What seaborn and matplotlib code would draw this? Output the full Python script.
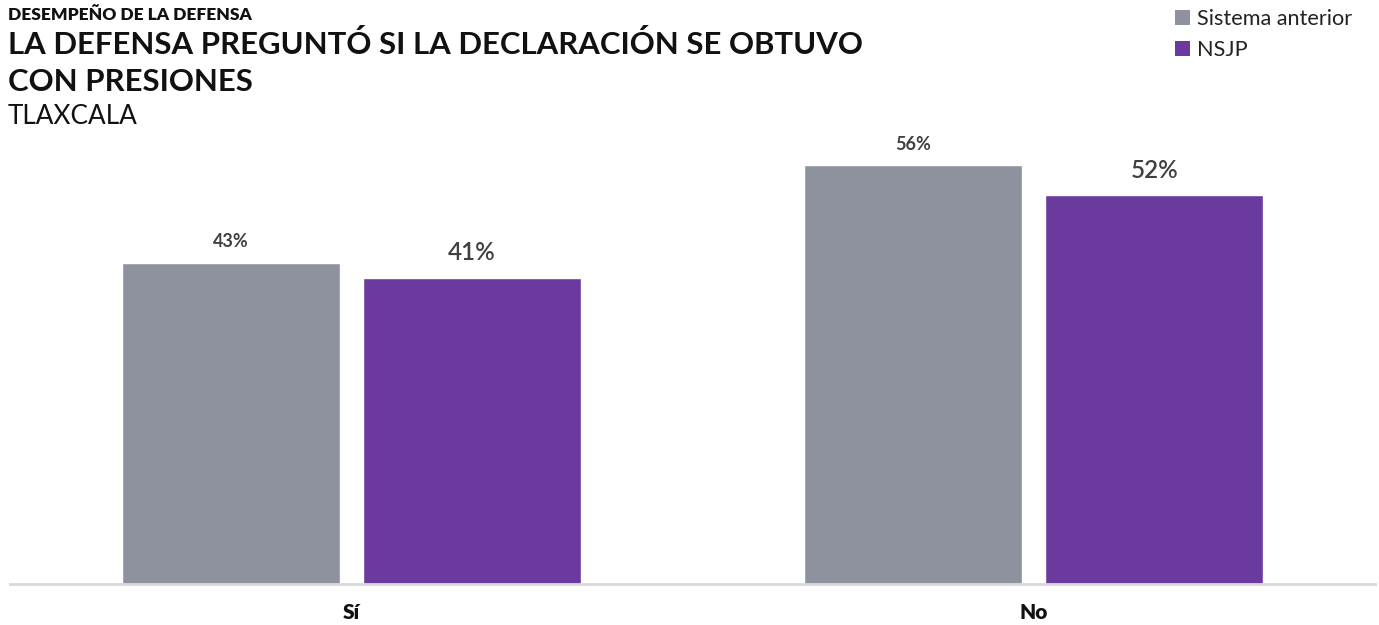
import matplotlib
matplotlib.use("Agg")
import matplotlib.pyplot as plt
import seaborn as sns
import pandas as pd
from matplotlib.patches import Patch

categories = ["Sí", "No"]
series_names = ["Sistema anterior", "NSJP"]
sistema_anterior = [43, 56]
nsjp = [41, 52]
colors = ["#8E929E", "#6A3A9F"]

df = pd.DataFrame({
    "categoria": categories * 2,
    "sistema": [series_names[0]] * 2 + [series_names[1]] * 2,
    "valor": sistema_anterior + nsjp,
})

sns.set_theme(style="white")
plt.rcParams["font.family"] = ["Lato", "DejaVu Sans"]

fig = plt.figure(figsize=(13.79, 6.25), dpi=100)
ax = fig.add_axes([10 / 1379, 1 - 584 / 625, 1365 / 1379, 450 / 625])

sns.barplot(data=df, x="categoria", y="valor", hue="sistema",
            order=categories, hue_order=series_names,
            palette=colors, width=0.706, gap=0.095, saturation=1,
            legend=False, ax=ax)

ax.set_ylim(0, 60.2)
ax.set_xlim(-0.5, 1.5)
ax.set_yticks([])
ax.set_xlabel("")
ax.set_ylabel("")
for s in ["top", "right", "left"]:
    ax.spines[s].set_visible(False)
ax.spines["bottom"].set_color("#D9D9D9")
ax.spines["bottom"].set_linewidth(2)
ax.tick_params(axis="x", length=0, pad=14)
for lbl in ax.get_xticklabels():
    lbl.set_fontsize(15)
    lbl.set_fontweight("heavy")
    lbl.set_color("#111111")

# value labels: grey bars small/bold, purple bars larger
label_styles = [dict(fontsize=13, fontweight="bold", off=2.8),
                dict(fontsize=17.5, fontweight="semibold", off=3.3)]
for container, st in zip(ax.containers, label_styles):
    for bar in container:
        h = bar.get_height()
        ax.text(bar.get_x() + bar.get_width() / 2, h + st["off"], f"{h:.0f}%",
                ha="center", va="center", fontsize=st["fontsize"],
                fontweight=st["fontweight"], color="#404040")

fig.text(8 / 1379, 1 - 15 / 625, "DESEMPEÑO DE LA DEFENSA", fontsize=12.5,
         fontweight="heavy", color="#111111", va="center", ha="left")
fig.text(8 / 1379, 1 - 45 / 625, "LA DEFENSA PREGUNTÓ SI LA DECLARACIÓN SE OBTUVO",
         fontsize=22.4, fontweight="bold", color="#111111", va="center", ha="left")
fig.text(8 / 1379, 1 - 82 / 625, "CON PRESIONES",
         fontsize=22.4, fontweight="bold", color="#111111", va="center", ha="left")
fig.text(8 / 1379, 1 - 117 / 625, "TLAXCALA",
         fontsize=18.8, color="#111111", va="center", ha="left")

handles = [Patch(facecolor=c, edgecolor="none") for c in colors]
fig.legend(handles, series_names, loc="upper left",
           bbox_to_anchor=(1175 / 1379, 1 - 9 / 625), frameon=False,
           fontsize=15.6, handlelength=0.7, handleheight=0.7,
           handletextpad=0.3, labelspacing=0.5, borderaxespad=0,
           borderpad=0, labelcolor="#222222")

fig.savefig("out.png", dpi=100)
